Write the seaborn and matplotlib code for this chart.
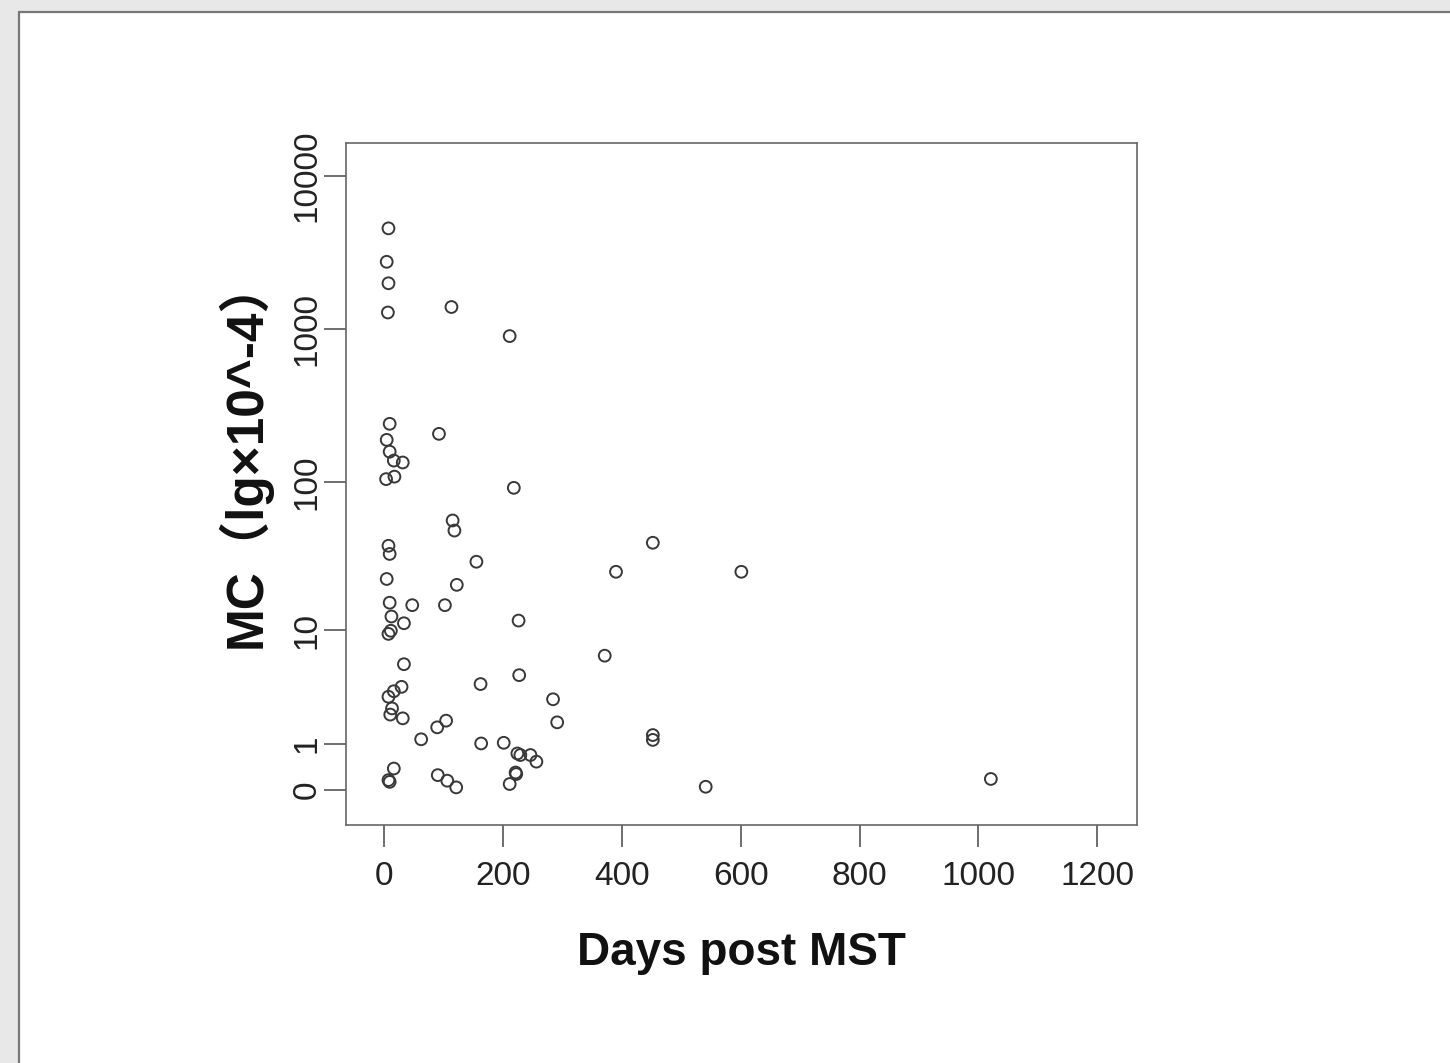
import numpy as np
import pandas as pd
import matplotlib
matplotlib.use('Agg')
import matplotlib.pyplot as plt
from matplotlib.patches import Rectangle
from matplotlib.lines import Line2D
import seaborn as sns

# Datos (dias tras MST, MC)
dias = [7, 4, 7, 6, 113, 211, 9, 92, 4, 9, 16, 31, 3, 17, 218,
        115, 118, 7, 9, 155, 390, 601, 452, 4, 122, 9, 47, 102, 12, 33,
        226, 7, 11, 371, 33, 227, 162, 29, 16, 7, 284, 13, 10, 31, 291,
        104, 89, 62, 163, 201, 224, 229, 246, 256, 221, 222, 211, 16, 7, 9,
        90, 106, 121, 452, 452, 541, 1021]
mc = [4560, 2760, 2000, 1290, 1400, 905, 242, 208, 190, 159, 139, 135, 105, 109, 92,
      56, 48, 38, 33.5, 29.7, 25.4, 25.4, 39.8, 22.7, 20.7, 15.6, 15.0, 15.0, 12.5, 11.2,
      11.7, 9.4, 9.9, 6.5, 5.6, 4.6, 3.9, 3.7, 3.4, 3.05, 2.9, 2.4, 2.1, 1.93, 1.76,
      1.83, 1.56, 1.14, 1.01, 1.03, 0.73, 0.69, 0.69, 0.53, 0.30, 0.27, 0.094, 0.38, 0.16, 0.13,
      0.25, 0.15, 0.04, 1.28, 1.12, 0.05, 0.18]

xticks = [0, 200, 400, 600, 800, 1000, 1200]
yticks = [0, 1, 10, 100, 1000, 10000]
ytick_labels = ['0', '1', '10', '100', '1000', '10000']

df = pd.DataFrame({'dias': dias, 'mc': mc})

sns.set_style('white')
plt.rcParams['font.family'] = ['Liberation Sans', 'Noto Sans CJK SC', 'DejaVu Sans']

W, H = 1450, 1063
fig = plt.figure(figsize=(W / 100, H / 100), dpi=100)
fig.patch.set_facecolor('#e8e8e8')

# marco de la captura
fig.patches.append(Rectangle((19 / W, 0), 1 - 19 / W, 1 - 12 / H, transform=fig.transFigure,
                             facecolor='white', edgecolor='none', zorder=-10))
fig.lines.append(Line2D([19 / W, 19 / W], [0, 1 - 12 / H], transform=fig.transFigure,
                        color='#777777', lw=1.6, zorder=-9))
fig.lines.append(Line2D([19 / W, 1], [1 - 12 / H, 1 - 12 / H], transform=fig.transFigure,
                        color='#777777', lw=1.6, zorder=-9))

ax = fig.add_axes([346 / W, (H - 825) / H, (1137 - 346) / W, (825 - 143) / H])
ax.set_facecolor('white')


def fwd(v):
    return np.log10(np.clip(np.asarray(v, dtype=float) + 1, 1e-9, None))


def inv(t):
    return 10 ** np.asarray(t, dtype=float) - 1


ax.set_yscale('function', functions=(fwd, inv))

sns.scatterplot(data=df, x='dias', y='mc', ax=ax, marker='o', s=72,
                facecolor='none', edgecolor='#383838', linewidth=1.4, legend=False)

ax.set_xlim(-64.5, 1267)
ax.set_ylim(inv(-0.228), inv(4.215))
ax.set_xticks(xticks)
ax.set_xticklabels([str(t) for t in xticks])
ax.set_yticks(yticks)
ax.set_yticklabels(ytick_labels)
ax.yaxis.set_minor_locator(matplotlib.ticker.NullLocator())

for sp in ax.spines.values():
    sp.set_visible(True)
    sp.set_color('#666666')
    sp.set_linewidth(1.2)

ax.tick_params(axis='both', which='major', direction='out', length=16, width=1.2,
               color='#555555', labelsize=24, labelcolor='#222222', bottom=True, left=True)
ax.tick_params(axis='x', pad=10)
ax.tick_params(axis='y', pad=1, labelrotation=90)
for lab in ax.get_yticklabels():
    lab.set_va('center')

ax.set_xlabel('Days post MST', fontsize=33, fontweight='bold', color='#111111')
ax.set_ylabel('MC（lg×10^-4）', fontsize=37, fontweight='bold', color='#111111')
ax.xaxis.set_label_coords(0.5, -0.155)
ax.yaxis.set_label_coords(-0.094, 0.546)

fig.savefig('out.png', dpi=100)
